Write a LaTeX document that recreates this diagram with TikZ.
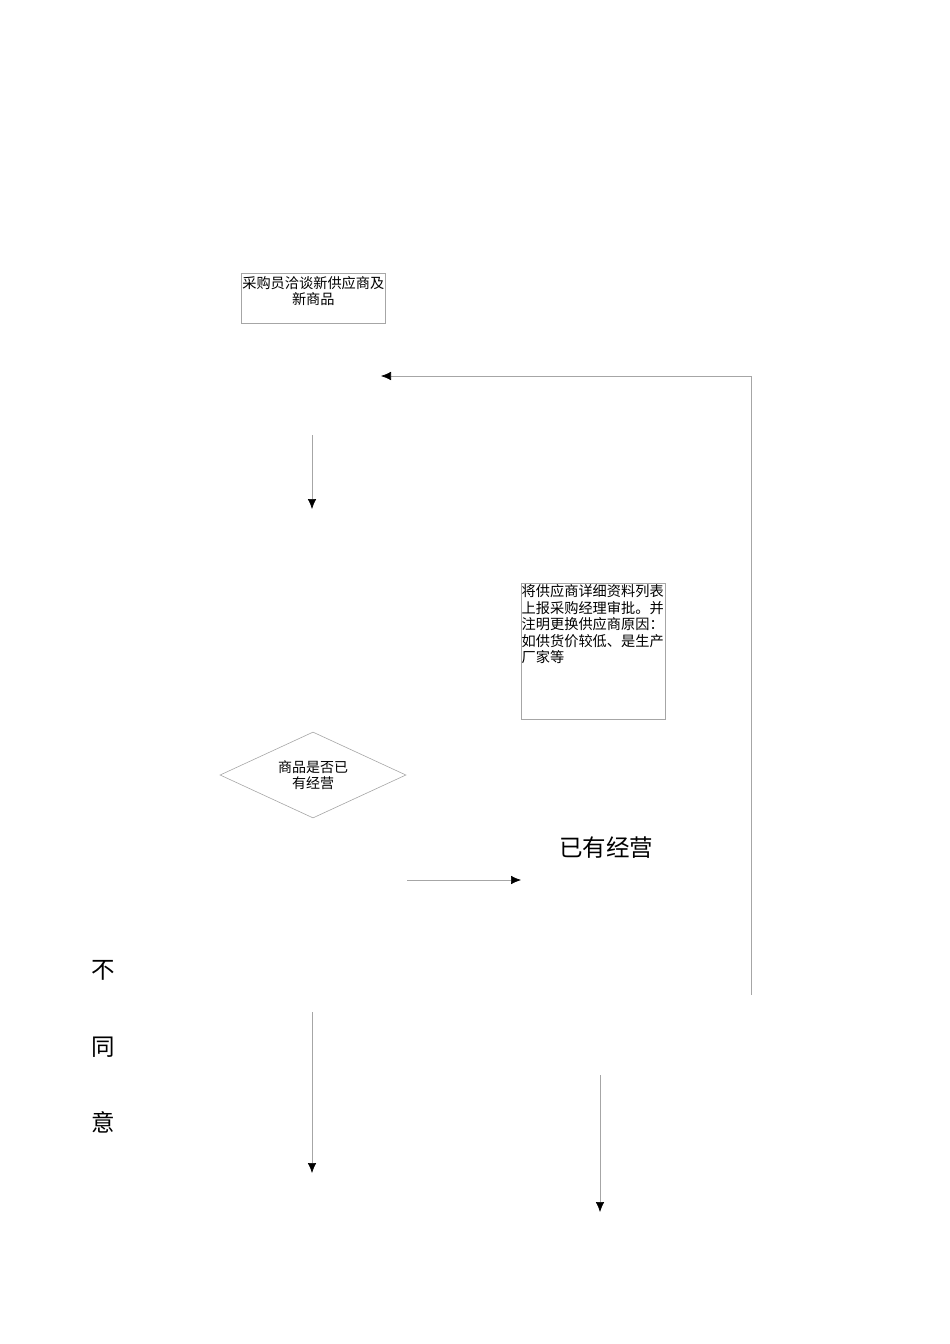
\documentclass[tikz,border=0pt]{standalone}
\usepackage{fontspec}
\newfontfamily\cjk{Noto Sans CJK SC}
\usepackage{tikz}
\usetikzlibrary{positioning,arrows.meta,shapes.geometric}

\begin{document}
\begin{tikzpicture}[x=1pt,y=-1pt,
    box/.style={draw=gray!70, line width=0.6pt, inner sep=0pt},
    txt/.style={font=\cjk\fontsize{14.2}{16.5}\selectfont, inner sep=0pt},
    big/.style={font=\cjk\fontsize{23.5}{26}\selectfont, inner sep=0pt},
    flow/.style={draw=gray!70, line width=0.6pt, -{Latex[black,length=10pt,width=8.5pt]}},
    wire/.style={draw=gray!70, line width=0.6pt}]
\useasboundingbox (0,0) rectangle (950,1344);

% Boxes
\node[box, anchor=north west, minimum width=144pt, minimum height=50pt] (talk) at (241,273) {};
\node[txt, anchor=north, align=center] (talktxt) at ([yshift=-3pt]talk.north) {采购员洽谈新供应商及\\新商品};

\node[box, anchor=north west, minimum width=144pt, minimum height=136pt] (report) at (521,583) {};
\node[txt, anchor=north west, align=left] (reporttxt) at ([xshift=0.5pt,yshift=-1.5pt]report.north west)
    {将供应商详细资料列表\\上报采购经理审批。并\\注明更换供应商原因：\\如供货价较低、是生产\\厂家等};

% Decision
\node[draw=gray!70, line width=0.6pt, diamond, aspect=2.2, minimum width=186pt, minimum height=86pt,
      inner sep=0pt, font=\cjk\fontsize{14}{16}\selectfont, align=center] (check) at (313,775) {商品是否已\\有经营};

% Labels
\node[big] (have) at (606,848) {已有经营};
\node[big] (no1) at (103,970) {不};
\node[big] (no2) at (103,1047) {同};
\node[big] (no3) at (103,1122) {意};

% Connectors
\coordinate (backbot) at (751,995);
\coordinate (backtop) at (751,376);
\coordinate (backend) at (381,376);
\draw[wire] (backbot) -- (backtop);
\draw[flow] (backtop) -- (backend);

\coordinate (d1a) at (312,435);
\coordinate (d1b) at (312,509);
\draw[flow] (d1a) -- (d1b);

\coordinate (r1a) at (407,880);
\coordinate (r1b) at (521,880);
\draw[flow] (r1a) -- (r1b);

\coordinate (d2a) at (312,1012);
\coordinate (d2b) at (312,1173);
\draw[flow] (d2a) -- (d2b);

\coordinate (d3a) at (600,1075);
\coordinate (d3b) at (600,1212);
\draw[flow] (d3a) -- (d3b);
\end{tikzpicture}
\end{document}
